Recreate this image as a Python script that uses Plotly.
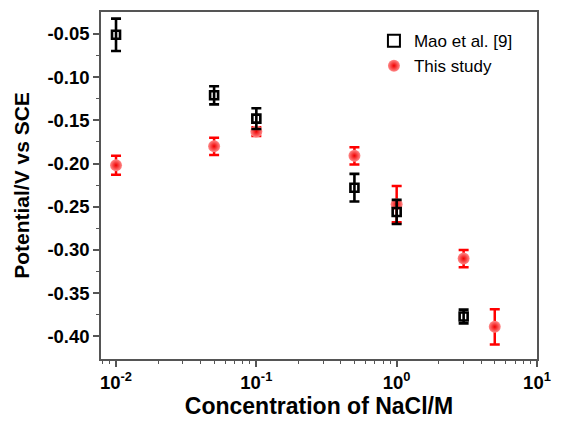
import plotly.graph_objects as go

# Data
mao_x = [0.01, 0.05, 0.1, 0.5, 1.0, 3.0]
mao_y = [-0.051, -0.121, -0.148, -0.228, -0.256, -0.377]
mao_err = [0.0187, 0.0105, 0.012, 0.016, 0.014, 0.008]

study_x = [0.01, 0.05, 0.1, 0.5, 1.0, 3.0, 5.0]
study_y = [-0.202, -0.180, -0.163, -0.191, -0.247, -0.310, -0.389]
study_err = [0.011, 0.010, 0.005, 0.010, 0.021, 0.010, 0.0205]

x_tickvals = [0.01, 0.1, 1, 10]
x_ticktext = ["10<sup>-2</sup>", "10<sup>-1</sup>", "10<sup>0</sup>", "10<sup>1</sup>"]
y_tickvals = [-0.40, -0.35, -0.30, -0.25, -0.20, -0.15, -0.10, -0.05]

x_minor = [m * 10 ** e for e in (-3, -2, -1, 0) for m in range(2, 10)]
y_minor = [-0.375, -0.325, -0.275, -0.225, -0.175, -0.125, -0.075]

FONT = "Liberation Sans, Arial, sans-serif"

fig = go.Figure()

fig.add_trace(go.Scatter(
    x=study_x, y=study_y, mode="markers", name="This study",
    legendrank=2,
    marker=dict(symbol="circle", size=12, color="#ff8a8a",
                gradient=dict(type="radial", color="#f00000"),
                line=dict(width=0)),
    error_y=dict(type="data", array=study_err, color="#ff0000", thickness=2.5, width=5),
))
fig.add_trace(go.Scatter(
    x=mao_x, y=mao_y, mode="markers", name="Mao et al. [9]",
    legendrank=1,
    marker=dict(symbol="square-open", size=8, color="black", line=dict(width=2.6, color="black")),
    error_y=dict(type="data", array=mao_err, color="black", thickness=2.6, width=5),
))

title_font_x = dict(family=FONT, size=23, color="black")
title_font_y = dict(family=FONT, size=21, color="black")
tick_font = dict(family=FONT, size=18.5, color="black", weight="bold")

fig.update_layout(
    width=561, height=424,
    margin=dict(l=101, r=16, t=10, b=55),
    paper_bgcolor="white", plot_bgcolor="white",
    showlegend=True,
    legend=dict(x=0.626, y=0.968, xanchor="left", yanchor="top",
                font=dict(family=FONT, size=17, color="black"),
                bgcolor="rgba(0,0,0,0)", tracegroupgap=0, itemsizing="constant"),
    xaxis=dict(
        type="log", range=[-2.107, 1.0],
        tickmode="array", tickvals=x_tickvals, ticktext=x_ticktext,
        ticks="outside", ticklen=6, tickwidth=1.5, tickcolor="#555",
        showline=True, linecolor="#555", linewidth=1.5, mirror=True,
        showgrid=False, zeroline=False,
        tickfont=tick_font,
        minor=dict(tickmode="array", tickvals=x_minor, ticks="outside", ticklen=3,
                   tickwidth=1.2, tickcolor="#555", showgrid=False),
        title=dict(text="<b>Concentration of NaCl/M</b>", font=title_font_x, standoff=5),
    ),
    yaxis=dict(
        range=[-0.4262, -0.0246],
        tickmode="array", tickvals=y_tickvals,
        ticktext=["%.2f" % v for v in y_tickvals],
        ticks="outside", ticklen=6, tickwidth=1.5, tickcolor="#555",
        showline=True, linecolor="#555", linewidth=1.5, mirror=True,
        showgrid=False, zeroline=False,
        tickfont=tick_font,
        minor=dict(tickmode="array", tickvals=y_minor, ticks="outside", ticklen=3,
                   tickwidth=1.2, tickcolor="#555", showgrid=False),
        title=dict(text="<b>Potential/V vs SCE</b>", font=title_font_y, standoff=12),
    ),
)

fig.write_html("out.html")
